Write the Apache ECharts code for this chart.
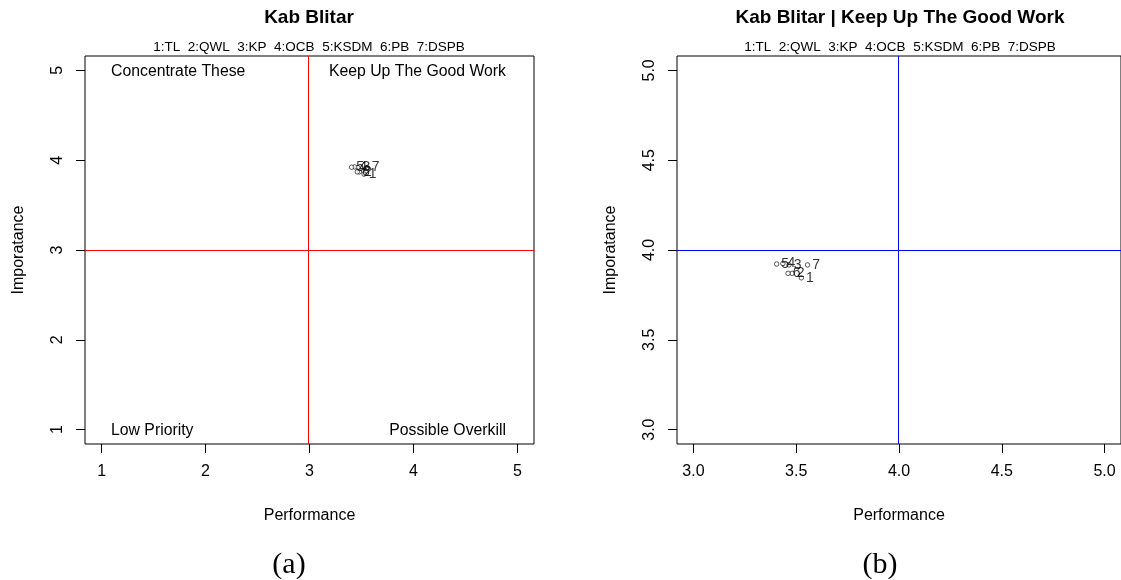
<!DOCTYPE html>
<html>
<head>
<meta charset="utf-8">
<script src="https://cdn.jsdelivr.net/npm/echarts@6/dist/echarts.min.js"></script>
<style>
  html, body { margin: 0; padding: 0; background: #fff; }
  #chart { width: 1121px; height: 580px; }
</style>
</head>
<body>
<div id="chart"></div>
<script>
// Importance-performance analysis, Kab Blitar
const codes = ['1', '2', '3', '4', '5', '6', '7'];
const legendText = '1:TL  2:QWL  3:KP  4:OCB  5:KSDM  6:PB  7:DSPB';
const performance = [3.525, 3.48, 3.465, 3.435, 3.405, 3.46, 3.555];
const importance = [3.845, 3.87, 3.917, 3.925, 3.922, 3.87, 3.917];

const fullTicks = [1, 2, 3, 4, 5];
const zoomTicks = [3.0, 3.5, 4.0, 4.5, 5.0];
const fullCut = 3;
const zoomCut = 4;

const quadrantNames = ['Concentrate These', 'Keep Up The Good Work', 'Low Priority', 'Possible Overkill'];
const titleA = 'Kab Blitar';
const titleB = 'Kab Blitar | Keep Up The Good Work';
const xName = 'Performance';
const yName = 'Imporatance';

const FONT = '"Liberation Sans", Arial, sans-serif';
const SERIF = '"Liberation Serif", "Times New Roman", serif';

const points = performance.map((p, i) => [p, importance[i], codes[i]]);

// R-style padding of 4% on each side of the data range
function padded(ticks) {
  const lo = ticks[0], hi = ticks[ticks.length - 1];
  const pad = (hi - lo) * 0.04;
  return [lo - pad, hi + pad];
}

function xAxisFor(gridIndex, ticks, fmt) {
  const [mn, mx] = padded(ticks);
  return {
    gridIndex, type: 'value', min: mn, max: mx,
    name: xName, nameLocation: 'middle', nameGap: 64,
    nameTextStyle: { fontFamily: FONT, fontSize: 16, color: '#000' },
    axisLine: { show: false, onZero: false },
    axisTick: { show: true, inside: false, length: 9, customValues: ticks, lineStyle: { color: '#000' } },
    axisLabel: { customValues: ticks, formatter: fmt, margin: 20, fontFamily: FONT, fontSize: 16, color: '#000' },
    splitLine: { show: false },
    axisPointer: { show: false }
  };
}

function yAxisFor(gridIndex, ticks, fmt) {
  const [mn, mx] = padded(ticks);
  return {
    gridIndex, type: 'value', min: mn, max: mx,
    name: yName, nameLocation: 'middle', nameGap: 58, nameRotate: 90,
    nameTextStyle: { fontFamily: FONT, fontSize: 16, color: '#000' },
    axisLine: { show: false, onZero: false },
    axisTick: { show: true, inside: false, length: 9, customValues: ticks, lineStyle: { color: '#000' } },
    axisLabel: { customValues: ticks, formatter: fmt, rotate: 90, margin: 19, fontFamily: FONT, fontSize: 16, color: '#000' },
    splitLine: { show: false },
    axisPointer: { show: false }
  };
}

// Quadrant dividers: one vertical and one horizontal line through the cut value
function cutLines(idx, cut, color) {
  return {
    type: 'custom', xAxisIndex: idx, yAxisIndex: idx,
    data: [[cut, cut]],
    silent: true,
    z: 6,
    renderItem: (params, api) => {
      const c = api.coord([api.value(0), api.value(1)]);
      const g = params.coordSys;
      const vx = Math.floor(c[0]) - 0.5;
      const hy = Math.floor(c[1]) + 0.5;
      return {
        type: 'group',
        children: [
          { type: 'line', shape: { x1: g.x, y1: hy, x2: g.x + g.width, y2: hy }, style: { stroke: color, lineWidth: 1 } },
          { type: 'line', shape: { x1: vx, y1: g.y, x2: vx, y2: g.y + g.height }, style: { stroke: color, lineWidth: 1 } }
        ]
      };
    }
  };
}

function pointSeries(idx) {
  return {
    type: 'scatter', xAxisIndex: idx, yAxisIndex: idx,
    data: points,
    symbol: 'circle', symbolSize: 4.5,
    itemStyle: { color: '#fff', borderColor: '#000', borderWidth: 0.8 },
    label: {
      show: true, position: 'right', distance: 2,
      formatter: p => p.data[2],
      fontFamily: FONT, fontSize: 14, color: '#000'
    },
    labelLayout: { hideOverlap: false },
    z: 1
  };
}

const chart = echarts.init(document.getElementById('chart'), null, { renderer: 'canvas' });

const txt = (x, y, text, size, align, extra) => ({
  type: 'text', x, y, silent: true,
  style: Object.assign({ text, fill: '#000', fontFamily: FONT, fontSize: size, align, verticalAlign: 'middle' }, extra || {})
});

chart.setOption({
  animation: false,
  backgroundColor: '#fff',
  grid: [
    { left: 85, top: 56, width: 449, height: 388, show: true, borderColor: '#000', borderWidth: 1, backgroundColor: 'transparent', containLabel: false },
    { left: 677, top: 56, width: 448, height: 388, show: true, borderColor: '#000', borderWidth: 1, backgroundColor: 'transparent', containLabel: false }
  ],
  xAxis: [
    xAxisFor(0, fullTicks, v => String(v)),
    xAxisFor(1, zoomTicks, v => Number(v).toFixed(1))
  ],
  yAxis: [
    yAxisFor(0, fullTicks, v => String(v)),
    yAxisFor(1, zoomTicks, v => Number(v).toFixed(1))
  ],
  series: [
    pointSeries(0),
    pointSeries(1),
    cutLines(0, fullCut, '#ff0000'),
    cutLines(1, zoomCut, '#0000ff')
  ],
  graphic: [
    txt(309, 18, titleA, 19, 'center', { fontWeight: 'bold' }),
    txt(309, 47, legendText, 13.5, 'center'),
    txt(900, 18, titleB, 19, 'center', { fontWeight: 'bold' }),
    txt(900, 47, legendText, 13.5, 'center'),

    txt(111, 72, quadrantNames[0], 15.8, 'left'),
    txt(506, 72, quadrantNames[1], 15.8, 'right'),
    txt(111, 431, quadrantNames[2], 15.8, 'left'),
    txt(506, 431, quadrantNames[3], 15.8, 'right'),

    txt(289, 565, '(a)', 30, 'center', { fontFamily: SERIF }),
    txt(880, 565, '(b)', 30, 'center', { fontFamily: SERIF })
  ]
});
</script>
</body>
</html>
